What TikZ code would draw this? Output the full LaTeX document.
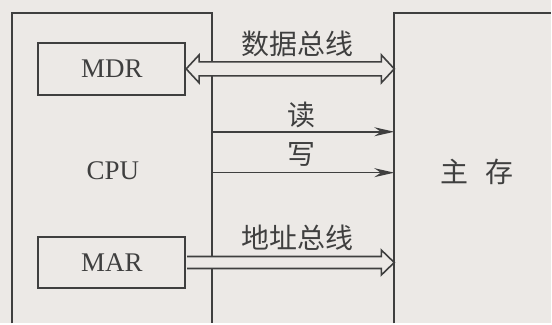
\documentclass[tikz,border=0pt]{standalone}
\usepackage{fontspec}
\setmainfont{Liberation Serif}
\newfontfamily\cjk{Noto Sans CJK SC}
\usetikzlibrary{calc,arrows.meta}
\definecolor{ink}{HTML}{3F3F3F}
\definecolor{paper}{HTML}{ECE9E6}

\begin{document}
\begin{tikzpicture}[x=0.5pt,y=-0.5pt,
        every node/.style={text=ink,font=\fontsize{13.5}{16}\selectfont},
        reg/.style={draw=ink,line width=1pt,minimum width=73.5pt,minimum height=26pt,inner sep=0pt},
        bus/.style={draw=ink,fill=paper,line width=0.8pt},
        sig/.style={draw=ink,line width=0.75pt,-{Stealth[length=10pt,width=4.5pt]}},
        lbl/.style={font=\cjk\fontsize{14}{16}\selectfont}]
    \fill[paper] (0,0) rectangle (552,324);
    \draw[ink,line width=1pt] (12,324) |- (212,13) -- (212,324);
    \draw[ink,line width=1pt] (395,324) |- (552,13);

    \node[reg] (mdr) at (112,69) {MDR};
    \node[reg] (mar) at (112,263) {MAR};
    \node (cpu) at (113,171) {CPU};
    \node[lbl] (mem) at (478,172) {主\hspace{.6em}存};

    \coordinate (memD) at (395,69);
    \coordinate (memA) at (395,263);
    \coordinate (rdA) at (212,132);
    \coordinate (rdB) at (395,132);
    \coordinate (wrA) at (212,173);
    \coordinate (wrB) at (395,173);

    % data bus, both ways
    \draw[bus] (mdr.east) -- ++(13,-14) -- ++(0,7) -- ($(memD)+(-13,-7)$) -- ++(0,-7)
        -- (memD) -- ++(-13,14) -- ++(0,-7) -- ($(mdr.east)+(13,7)$) -- ++(0,7) -- cycle;
    \node[lbl] (dbus) at (298,44) {数据总线};

    % control lines
    \draw[sig] (rdA) -- (rdB);
    \node[lbl] (rd) at (302,115) {读};
    \draw[sig] (wrA) -- (wrB);
    \node[lbl] (wr) at (302,155) {写};

    % address bus
    \filldraw[bus] ($(mar.east)+(1,-6)$) -- ($(memA)+(-13,-6)$) -- ++(0,-6.5) -- (memA)
        -- ++(-13,12.5) -- ++(0,-6.5) -- ($(mar.east)+(1,6)$);
    \node[lbl] (abus) at (298,238) {地址总线};
\end{tikzpicture}
\end{document}
